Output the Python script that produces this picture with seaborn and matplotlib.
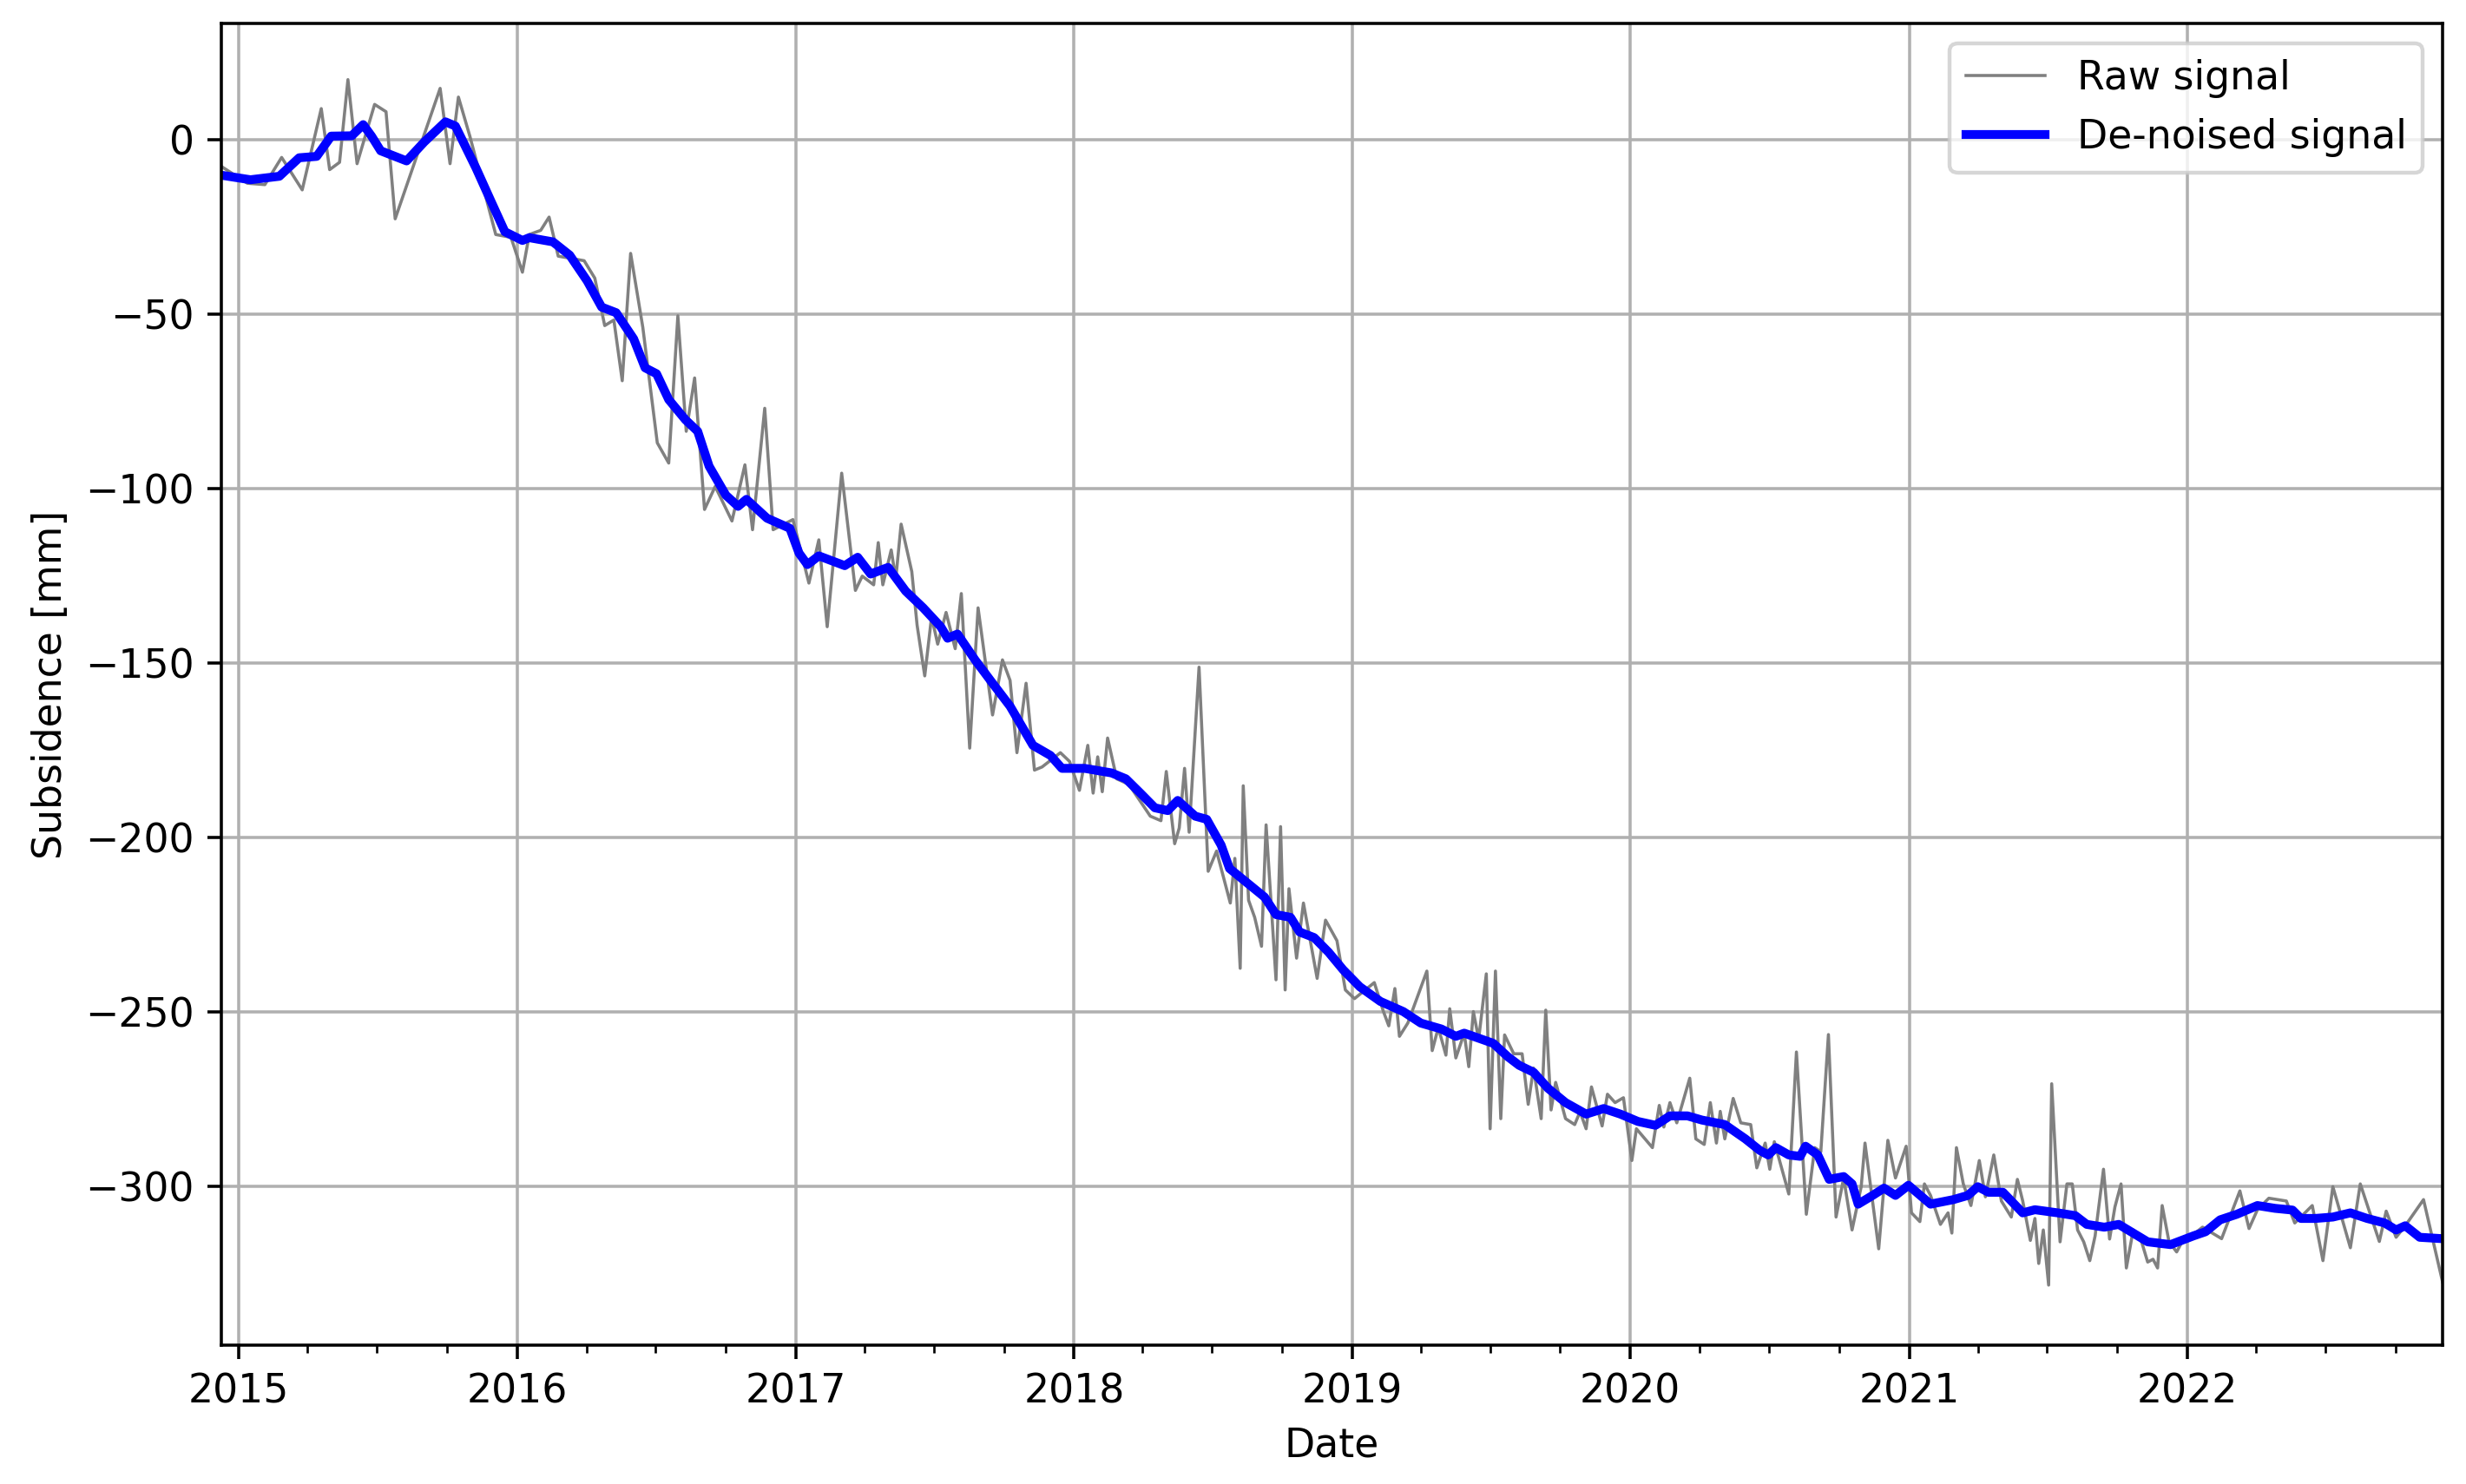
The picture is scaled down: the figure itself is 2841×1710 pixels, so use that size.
import pandas as pd
import seaborn as sns
import matplotlib
matplotlib.use("Agg")
from matplotlib import pyplot as plt
import matplotlib.dates as mdates

plt.rcParams["font.size"] = 10.3

# days counted from 1 Jan 2015, values in mm
start = pd.Timestamp("2015-01-01")

raw_days = [-23, 11, 34, 56, 83, 108, 119, 132, 143, 155, 178, 193, 205, 264, 277, 288, 303, 337, 357, 372,
            381, 396, 407, 419, 453, 467, 480, 492, 503, 514, 530, 549, 564, 576, 587, 598, 611, 625, 647, 664, 674, 690, 701,
            727, 748, 761, 772, 791, 809, 818, 833, 839, 845, 856, 862, 869, 883, 890, 900, 909, 917, 928, 940, 948, 959, 970,
            989, 1002, 1012, 1021, 1033, 1044, 1054, 1078, 1090,
            1103, 1114, 1121, 1127, 1133, 1140, 1152, 1168, 1196, 1210, 1217, 1228, 1234, 1241, 1247, 1260, 1272, 1283, 1301,
            1307, 1314, 1318, 1325, 1333, 1342, 1348, 1361, 1367, 1373, 1378, 1388, 1397, 1415, 1426, 1441, 1452,
            1464, 1490, 1502, 1509, 1517, 1523, 1534, 1559, 1566, 1574, 1584, 1589, 1597, 1608, 1614, 1620, 1627, 1637, 1642,
            1649, 1656, 1661, 1673, 1684, 1692, 1699, 1709, 1715, 1722, 1728, 1741, 1753, 1760, 1768, 1775, 1789, 1796, 1806, 1817,
            1828, 1834, 1855, 1864, 1870, 1878, 1887, 1904, 1912, 1923, 1931, 1939, 1944, 1950, 1961, 1971, 1984, 1992, 2003,
            2009, 2015, 2024, 2034, 2044, 2057, 2068, 2076, 2086, 2096, 2106, 2117, 2129, 2134, 2152, 2164, 2174, 2188, 2195,
            2206, 2212, 2220, 2233, 2243, 2248, 2254, 2263, 2273, 2284, 2292, 2303, 2313, 2326, 2334, 2341, 2351, 2357, 2362,
            2368, 2375, 2379, 2390, 2399, 2406, 2413, 2421, 2429, 2436, 2447, 2455, 2462, 2470, 2477, 2486, 2497, 2505, 2512,
            2518, 2524, 2533, 2543, 2552,
            2558, 2577, 2602, 2626, 2638, 2649, 2664, 2687, 2698, 2721, 2735, 2748, 2771, 2784, 2809, 2818, 2831, 2843, 2867, 2892]
raw_mm = [-7.6, -12.4, -12.8, -5.0, -14.3, 9.0, -8.5, -6.4, 17.3, -6.8, 10.2, 8.1, -22.6, 14.8, -6.8, 12.3, 1.1, -27.1, -27.9, -37.9,
          -27.1, -25.9, -22.1, -33.3, -34.6, -39.6, -53.2, -51.6, -69.0, -32.5, -53.7, -86.8, -92.6, -50.4, -83.5, -68.2,
          -105.9, -99.3, -109.2, -93.1, -111.7, -76.9, -111.7,
          -108.8, -127.0, -114.6, -139.5, -95.5, -129.1, -125.0, -127.5, -115.4, -127.5, -117.5, -125.8, -110.1, -123.7,
          -139.1, -153.6, -136.6, -144.5, -135.4, -145.8, -130.0, -174.3, -134.1, -164.8, -149.0, -154.9, -175.6, -155.7,
          -180.6, -179.7, -175.6, -178.1,
          -186.4, -173.5, -187.2, -176.8, -186.8, -171.4, -183.1, -184.7, -193.8, -195.1, -181.0, -201.7, -197.2, -180.1,
          -198.4, -151.1, -209.6, -203.8, -218.7, -205.9, -237.4, -185.1, -217.9, -222.8, -231.1, -196.3, -240.7, -196.8,
          -243.6, -214.6, -234.5, -218.7, -240.3, -223.6, -229.5, -243.6,
          -246.1, -241.5, -249.8, -253.9, -243.2, -256.9, -253.1, -238.2, -261.0, -254.4, -262.3, -249.0, -263.1, -256.0,
          -265.6, -249.8, -257.7, -239.0, -283.4, -238.2, -280.5, -256.5, -261.9, -261.9, -276.4, -266.0, -280.5, -249.4,
          -278.0, -270.1, -280.5, -282.2, -278.5, -283.4, -271.4, -282.6, -273.5, -275.9, -274.5,
          -292.5, -283.4, -288.8, -276.7, -282.9, -275.9, -281.7, -268.9, -286.3, -287.9, -275.9, -287.5, -278.4, -286.3,
          -274.7, -281.7, -282.2, -294.6, -287.5, -295.0, -287.1, -294.2, -302.1, -261.4, -307.9, -288.8, -290.0, -256.4,
          -308.7, -297.5, -312.4, -300.0, -287.5, -317.8, -286.7, -297.5, -288.4, -307.5,
          -310.0, -299.2, -302.5, -310.8, -307.5, -313.3, -288.8, -299.2, -305.4, -292.5, -302.9, -290.9, -304.1, -308.7,
          -297.9, -304.1, -315.4, -309.1, -322.0, -312.4, -328.2, -270.5, -315.8, -299.2, -299.2, -312.4, -315.8, -321.2,
          -314.1, -295.0, -315.0, -305.8, -299.2, -323.3, -312.4, -315.8, -321.6, -320.8, -323.3, -305.4, -315.8, -318.7, -315.0,
          -314.9, -311.6, -314.9, -301.2, -312.0, -306.6, -303.3, -304.1, -310.4, -305.4, -321.2, -300.0, -317.5, -299.2,
          -315.7, -307.0, -314.5, -311.2, -303.7, -327.3]

denoised_days = [-23, 15, 53, 79, 102, 121, 148, 163, 174, 186, 220, 243, 271, 284, 311, 330, 349, 372,
                 381, 412, 434, 457, 476, 495, 518, 533, 548, 564, 586, 602, 617, 639, 655, 666, 693, 723,
                 735, 746, 761, 795, 812, 829, 852, 875, 898, 921, 930, 943, 966, 989, 1012, 1042, 1065, 1080, 1110,
                 1145, 1164, 1183, 1202, 1219, 1232, 1255, 1270, 1289, 1300, 1323, 1346, 1361, 1380, 1392, 1411, 1430, 1449, 1471,
                 1498, 1528, 1551, 1578, 1597, 1608, 1620, 1646, 1665, 1680, 1699, 1718, 1741, 1768, 1791, 1813, 1836,
                 1859, 1878, 1901, 1920, 1950, 1977, 1996, 2007, 2017, 2034, 2049, 2056, 2072, 2087, 2106, 2117, 2125, 2144,
                 2159, 2174, 2191,
                 2220, 2250, 2269, 2282, 2296, 2315, 2341, 2357, 2387, 2410, 2425, 2448, 2467, 2486, 2505, 2535, 2565,
                 2581, 2600, 2622, 2649, 2672, 2695, 2706, 2725, 2748, 2771, 2793, 2816, 2831, 2843, 2862, 2892]
denoised_mm = [-10.1, -11.4, -10.4, -5.1, -4.7, 1.1, 1.2, 4.4, 1.1, -3.1, -6.0, -0.6, 5.2, 4.0, -8.0, -17.2, -26.3, -28.8,
               -28.0, -29.2, -33.0, -40.4, -47.9, -49.5, -57.0, -65.3, -67.0, -74.4, -80.2, -83.5, -93.5, -101.8, -105.0,
               -103.0, -108.4, -111.3,
               -118.4, -121.7, -119.2, -122.0, -119.6, -124.4, -122.5, -129.3, -134.1, -139.5, -142.8, -141.6, -149.0,
               -155.7, -162.3, -173.5, -176.4, -180.1, -180.1,
               -181.4, -183.1, -187.2, -191.4, -192.2, -189.3, -193.8, -194.7, -202.1, -208.8, -212.9, -217.0, -222.0,
               -222.8, -227.0, -228.6, -232.8, -237.8, -242.7,
               -246.9, -249.8, -253.1, -254.8, -256.9, -256.0, -256.9, -258.9, -262.7, -265.2, -267.2, -271.8, -275.9,
               -279.2, -277.6, -279.2, -281.3,
               -282.4, -279.7, -279.7, -280.9, -282.2, -286.3, -289.6, -290.9, -288.8, -290.9, -291.3, -288.4, -290.9,
               -297.9, -297.1, -299.2, -305.0, -302.5, -300.4, -302.5, -299.6,
               -305.0, -303.7, -302.5, -300.0, -301.6, -301.6, -307.5, -306.6, -307.5, -308.3, -310.8, -311.6, -310.8,
               -313.3, -315.8, -316.6, -314.1,
               -312.9, -309.5, -307.9, -305.4, -306.2, -306.7, -309.1, -309.1, -308.7, -307.5, -309.1, -310.4, -312.4,
               -311.2, -314.5, -314.9]

raw = pd.DataFrame({"Date": start + pd.to_timedelta(raw_days, unit="D"), "Subsidence": raw_mm})
den = pd.DataFrame({"Date": start + pd.to_timedelta(denoised_days, unit="D"), "Subsidence": denoised_mm})

fig = plt.figure(figsize=(2841 / 320, 1710 / 320), dpi=320)
ax = fig.add_axes([0.0898, 0.0936, 0.9007, 0.8906])

sns.lineplot(data=raw, x="Date", y="Subsidence", color="gray", linewidth=0.8,
             label="Raw signal", estimator=None, sort=False, ax=ax)
sns.lineplot(data=den, x="Date", y="Subsidence", color="blue", linewidth=2.3,
             label="De-noised signal", estimator=None, sort=False, ax=ax)

ax.set_xlim(raw["Date"].min(), raw["Date"].max())
ax.set_ylim(-345.4, 33.4)
ax.xaxis.set_major_locator(mdates.YearLocator())
ax.xaxis.set_major_formatter(mdates.DateFormatter("%Y"))
ax.xaxis.set_minor_locator(mdates.MonthLocator(bymonth=[4, 7, 10]))
ax.grid(True, which="major", color="#b0b0b0", linewidth=0.8)
ax.set_axisbelow(True)
ax.set_xlabel("Date")
ax.set_ylabel("Subsidence [mm]")
ax.legend(loc="upper right")

fig.savefig("out.png", dpi=320)
